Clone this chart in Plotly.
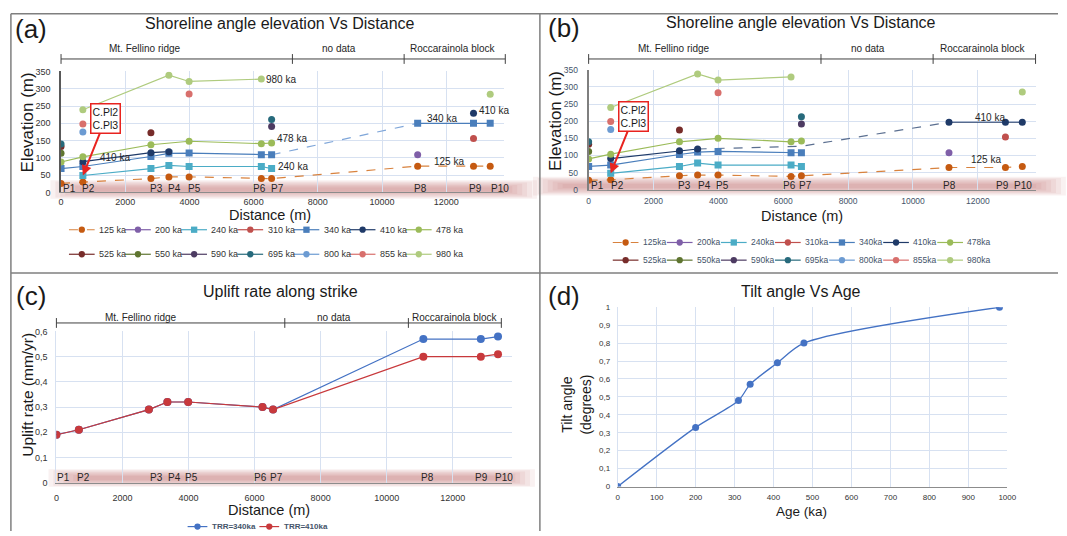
import plotly.graph_objects as go

# ---------------- DATA ----------------
PROFILE_LABELS = ["P1", "P2", "P3", "P4", "P5", "P6", "P7", "P8", "P9", "P10"]
PROFILE_X = [0, 680, 2800, 3360, 3990, 6240, 6560, 11110, 12850, 13370]

AGES = ["125", "200", "240", "310", "340", "410", "478",
        "525", "550", "590", "695", "800", "855", "980"]

N = None
# Panel (a) shoreline angle elevations (m) at P1..P10
A_125 = [26, 30, 40, 45, 45, 40, 40, 76, 76, 76]
A_200 = [N, N, N, N, N, N, N, 109, N, N]
A_240 = [N, 49, 69, 78, 75, 75, 69, N, N, N]
A_310 = [N, N, N, N, N, N, N, N, 156, N]
A_340 = [69, 75, 104, 113, 114, 109, 109, 200, 200, 200]
A_410 = [N, 89, 115, 118, N, N, N, N, 229, N]
A_478 = [88, 103, 138, N, 148, 141, 143, N, N, N]
A_525 = [133, N, 173, N, N, N, N, N, N, N]
A_550 = [113, N, N, N, N, N, N, N, N, N]
A_590 = [N, N, N, N, N, N, 191, N, N, N]
A_695 = [140, N, N, N, N, N, 211, N, N, N]
A_800 = [N, 175, N, N, N, N, N, N, N, N]
A_855 = [N, 198, N, N, 285, N, N, N, N, N]
A_980 = [N, 239, N, 339, 321, 328, N, N, N, 284]

# Panel (b)
B_125 = [28, 29, 41, 43, 43, 39, 41, 65, 65, 68]
B_200 = [N, N, N, N, N, N, N, 108, N, N]
B_240 = [N, 48, 68, 78, 72, 72, 68, N, N, N]
B_310 = [N, N, N, N, N, N, N, N, 154, N]
B_340 = [68, 72, 103, 110, 112, 108, 108, N, N, N]
B_410 = [N, 91, 114, 119, N, N, N, 197, 197, 197]
B_410_BEND = 127   # elevation of the dashed 410 ka trend where it bends (at P7)
B_478 = [90, 104, 140, N, 150, 140, 142, N, N, N]
B_525 = [133, N, 174, N, N, N, N, N, N, N]
B_550 = [112, N, N, N, N, N, N, N, N, N]
B_590 = [N, N, N, N, N, N, 192, N, N, N]
B_695 = [140, N, N, N, N, N, 213, N, N, N]
B_800 = [N, 176, N, N, N, N, N, N, N, N]
B_855 = [N, 199, N, N, 283, N, N, N, N, N]
B_980 = [N, 240, N, 338, 320, 329, N, N, N, 285]

# Panel (c) uplift rate (mm/yr)
C_340 = [0.19, 0.21, 0.29, 0.32, 0.32, 0.30, 0.29, 0.57, 0.57, 0.58]
C_410 = [0.19, 0.21, 0.29, 0.32, 0.32, 0.30, 0.29, 0.50, 0.50, 0.51]

# Panel (d) tilt angle vs age
D_AGE = [0, 200, 310, 340, 410, 478, 980]
D_TILT = [0, 0.33, 0.48, 0.57, 0.69, 0.80, 1.0]

DIST_TICKS = [0, 2000, 4000, 6000, 8000, 10000, 12000]
DIST_TICKTEXT = ["0", "2000", "4000", "6000", "8000", "10000", "12000"]
ELEV_TICKS = [0, 50, 100, 150, 200, 250, 300, 350]
UPLIFT_TICKS = [0, 0.1, 0.2, 0.3, 0.4, 0.5, 0.6]
UPLIFT_TICKTEXT = ["0", "0,1", "0,2", "0,3", "0,4", "0,5", "0,6"]
AGE_TICKS = [0, 100, 200, 300, 400, 500, 600, 700, 800, 900, 1000]
TILT_TICKS = [0, 0.1, 0.2, 0.3, 0.4, 0.5, 0.6, 0.7, 0.8, 0.9, 1.0]
TILT_TICKTEXT = ["0", "0,1", "0,2", "0,3", "0,4", "0,5", "0,6", "0,7", "0,8", "0,9", "1"]

# ---------------- STYLE ----------------
W, H = 1067, 536
FONT = "Liberation Sans, Arial, sans-serif"
GRID = "#D7E1F1"
COL = {"125": "#C55A11", "200": "#7F5FA8", "240": "#4BACC6", "310": "#C0504D",
       "340": "#4A7EBB", "410": "#1F3A68", "478": "#9BBB59", "525": "#772C2A",
       "550": "#5F7530", "590": "#4D3B62", "695": "#276A7C", "800": "#6C9BD2",
       "855": "#D86F6C", "980": "#AFCB7E"}
LINECOL = dict(COL)
LINECOL["125"] = "#D8823E"
SQUARES = {"240", "340"}

# horizontal nudges (px) of the profile labels in each panel
PLAB_SHIFT_A = [0, -3, -3, -3, -3, -10, -3, -6, -7, -1]
PLAB_SHIFT_B = [0, -2, -3, -2, -4, -10, -4, -8, -11, -10]
PLAB_SHIFT_C = [-1, -4, -1, -1, -5, -11, -5, -4, -8, -5]


def fx(p):
    return p / W


def fy(p):
    return 1 - p / H


A = dict(zip(AGES, [A_125, A_200, A_240, A_310, A_340, A_410, A_478,
                    A_525, A_550, A_590, A_695, A_800, A_855, A_980]))
B = dict(zip(AGES, [B_125, B_200, B_240, B_310, B_340, B_410, B_478,
                    B_525, B_550, B_590, B_695, B_800, B_855, B_980]))

fig = go.Figure()
shapes = []
annots = []


def line_trace(xa, ya, xs, ys, color, dash="solid", width=1.2):
    fig.add_trace(go.Scatter(x=xs, y=ys, mode="lines", xaxis=xa, yaxis=ya,
                             line=dict(color=color, width=width, dash=dash),
                             showlegend=False, hoverinfo="skip"))


def link(xa, ya, vals, idx, color, dash="solid"):
    line_trace(xa, ya, [PROFILE_X[i] for i in idx], [vals[i] for i in idx], color, dash)


def markers(xa, ya, vals, age, size=7):
    xs = [PROFILE_X[i] for i, v in enumerate(vals) if v is not None]
    ys = [v for v in vals if v is not None]
    fig.add_trace(go.Scatter(x=xs, y=ys, mode="markers", xaxis=xa, yaxis=ya,
                             name=age + " ka",
                             marker=dict(color=COL[age], size=size,
                                         symbol="square" if age in SQUARES else "circle"),
                             showlegend=False))


ALL = list(range(10))
# ---- panel (a)
link("x", "y", A["125"], ALL, LINECOL["125"], "dash")
link("x", "y", A["240"], [1, 2, 3, 4, 5, 6], LINECOL["240"])
link("x", "y", A["340"], [0, 1, 2, 3, 4, 5, 6], LINECOL["340"])
link("x", "y", A["340"], [6, 7], "#7FA6D9", "dash")
link("x", "y", A["340"], [7, 8, 9], LINECOL["340"])
link("x", "y", A["410"], [1, 2, 3], LINECOL["410"])
link("x", "y", A["478"], [0, 1, 2, 4, 5, 6], LINECOL["478"])
link("x", "y", A["980"], [1, 3, 4, 5], LINECOL["980"])
for age in AGES:
    markers("x", "y", A[age], age)

# ---- panel (b)
link("x2", "y2", B["125"], ALL, LINECOL["125"], "dash")
link("x2", "y2", B["240"], [1, 2, 3, 4, 5, 6], LINECOL["240"])
link("x2", "y2", B["340"], [0, 1, 2, 3, 4, 5, 6], LINECOL["340"])
link("x2", "y2", B["410"], [1, 2, 3], LINECOL["410"])
line_trace("x2", "y2", [PROFILE_X[3], PROFILE_X[6], PROFILE_X[7]],
           [B["410"][3], B_410_BEND, B["410"][7]], "#5B6F90", "dash")
link("x2", "y2", B["410"], [7, 8, 9], LINECOL["410"])
link("x2", "y2", B["478"], [0, 1, 2, 4, 5, 6], LINECOL["478"])
link("x2", "y2", B["980"], [1, 3, 4, 5], LINECOL["980"])
for age in AGES:
    markers("x2", "y2", B[age], age)

# ---- panel (c)
fig.add_trace(go.Scatter(x=PROFILE_X, y=C_340, mode="lines+markers", xaxis="x3", yaxis="y3",
                         name="TRR=340ka", line=dict(color="#4472C4", width=1.2),
                         marker=dict(color="#4472C4", size=8), showlegend=False))
fig.add_trace(go.Scatter(x=PROFILE_X, y=C_410, mode="lines+markers", xaxis="x3", yaxis="y3",
                         name="TRR=410ka", line=dict(color="#C8393C", width=1.2),
                         marker=dict(color="#C8393C", size=8), showlegend=False))

# ---- panel (d)
fig.add_trace(go.Scatter(x=D_AGE, y=D_TILT, mode="lines+markers", xaxis="x4", yaxis="y4",
                         line=dict(color="#4472C4", width=1.3, shape="spline", smoothing=0.8),
                         marker=dict(color="#4472C4", size=7), showlegend=False))


# ---------------- AXES ----------------
def xaxis(dom, rng, ticks, tcolor, size, standoff, text=None, line=True):
    d = dict(domain=[fx(dom[0]), fx(dom[1])], range=rng, tickvals=ticks,
             showgrid=True, gridcolor=GRID, gridwidth=1, zeroline=False,
             showline=line, linecolor="#8C8C8C", linewidth=1.2, ticks="",
             tickfont=dict(family=FONT, size=size, color=tcolor),
             ticklabelstandoff=standoff, fixedrange=True)
    if text:
        d["ticktext"] = text
    return d


def yaxis(dom, rng, ticks, tcolor, size, standoff, text=None, lw=1.5, lc="#595959"):
    d = dict(domain=[fy(dom[1]), fy(dom[0])], range=rng, tickvals=ticks,
             showgrid=True, gridcolor=GRID, gridwidth=1, zeroline=False,
             showline=True, linecolor=lc, linewidth=lw, ticks="",
             tickfont=dict(family=FONT, size=size, color=tcolor),
             ticklabelstandoff=standoff, fixedrange=True)
    if text:
        d["ticktext"] = text
    return d


RX = [0, 13800]
fig.update_layout(
    xaxis=xaxis((58.7, 506.7), RX, DIST_TICKS, "#333333", 9, 1, DIST_TICKTEXT),
    yaxis=dict(yaxis((67.7, 191), [0, 350], ELEV_TICKS, "#333333", 9, 7), anchor="x"),
    xaxis2=dict(xaxis((592.3, 1045), RX, DIST_TICKS, "#44546A", 8.5, 3, DIST_TICKTEXT), anchor="y2"),
    yaxis2=dict(yaxis((66, 188.3), [0, 350], ELEV_TICKS, "#44546A", 8.5, 7, lw=2, lc="#7F7F7F"), anchor="x2"),
    xaxis3=dict(xaxis((54, 515), RX, DIST_TICKS, "#333333", 9, 6, DIST_TICKTEXT), anchor="y3"),
    yaxis3=dict(yaxis((332.7, 486.7), [0, 0.6], UPLIFT_TICKS, "#333333", 9, 6,
                      UPLIFT_TICKTEXT, lw=1, lc=GRID), anchor="x3"),
    xaxis4=dict(xaxis((621.7, 1015.7), [0, 1000], AGE_TICKS, "#333333", 8, 3), anchor="y4"),
    yaxis4=dict(yaxis((308, 490.7), [0, 1], TILT_TICKS, "#333333", 8, 5,
                      TILT_TICKTEXT, lw=1, lc=GRID), anchor="x4"),
)


# ---------------- DECORATIONS ----------------
def txt(x, y, s, size, color="#1A1A1A", xanchor="center", angle=0, **kw):
    annots.append(dict(x=fx(x), y=fy(y), xref="paper", yref="paper", text=s,
                       showarrow=False, xanchor=xanchor, yanchor="middle",
                       textangle=angle, font=dict(family=FONT, size=size, color=color), **kw))


def hline(x0, x1, y, color="#404040", width=1, dash="solid"):
    shapes.append(dict(type="line", xref="paper", yref="paper", x0=fx(x0), x1=fx(x1),
                       y0=fy(y), y1=fy(y), line=dict(color=color, width=width, dash=dash)))


def vline(x, y0, y1, color="#404040", width=1):
    shapes.append(dict(type="line", xref="paper", yref="paper", x0=fx(x), x1=fx(x),
                       y0=fy(y0), y1=fy(y1), line=dict(color=color, width=width)))


def band(x0, x1, yc, hh):
    for k in range(7):
        h = hh * (1 - k * 0.13)
        ins = k * 5
        shapes.append(dict(type="rect", xref="paper", yref="paper", layer="below",
                           x0=fx(x0 + ins), x1=fx(x1 - ins), y0=fy(yc + h), y1=fy(yc - h),
                           line=dict(width=0), fillcolor="rgba(185,95,105,0.09)"))


band(48, 540, 188, 9.5)
band(536, 1075, 184.5, 9.5)
band(46, 538, 482, 9)

# panel frames
hline(8, W, 9, "#7F7F7F", 1.5)
hline(8, W, 273, "#7F7F7F", 1.5)
vline(8, 9, H, "#7F7F7F", 1.5)
vline(543, 9, H, "#7F7F7F", 1.5)


def bracket(x_ticks, y, label_y, label_x, size=10):
    hline(x_ticks[0], x_ticks[-1], y, "#404040", 1)
    for xt in x_ticks:
        vline(xt, y - 5, y + 5, "#404040", 1)
    for lx, s in zip(label_x, ["Mt. Fellino ridge", "no data", "Roccarainola block"]):
        txt(lx, label_y, s, size, "#262626")


bracket([58.7, 292.7, 405.7, 508], 55, 44.5, [144, 340, 455])
bracket([592.3, 827.3, 940.7, 1044.3], 55, 44.5, [678.3, 875, 991])
bracket([54, 285, 410, 504], 324, 318, [140, 335, 456.7])

# titles and panel letters
txt(280, 19, "Shoreline angle elevation Vs Distance", 16)
txt(806.7, 18.3, "Shoreline angle elevation Vs Distance", 16)
txt(281, 291.7, "Uplift rate along strike", 16)
txt(807, 292, "Tilt angle Vs Age", 16)
txt(28, 24, "(a)", 26)
txt(567, 23, "(b)", 26)
txt(28, 297, "(c)", 26)
txt(567, 297, "(d)", 26)

# axis titles
txt(269.7, 214, "Distance (m)", 14.5)
txt(807.7, 215.5, "Distance (m)", 14.5)
txt(269.3, 514.5, "Distance (m)", 14.5)
txt(807.7, 516.5, "Age (ka)", 13.5)
txt(25, 120, "Elevation (m)", 17, angle=-90)
txt(558.3, 118.3, "Elevation (m)", 17, angle=-90)
txt(24, 397.5, "Uplift rate (mm/yr)", 15.5, angle=-90)
txt(580, 406.7, "Tilt angle<br>(degrees)", 14, angle=-90)

# profile labels
for xa, ya, ysh, shifts in (("x", "y", 3.5, PLAB_SHIFT_A), ("x2", "y2", 4, PLAB_SHIFT_B),
                            ("x3", "y3", 5, PLAB_SHIFT_C)):
    for lab, xv, sh in zip(PROFILE_LABELS, PROFILE_X, shifts):
        annots.append(dict(x=xv, y=0, xref=xa, yref=ya, text=lab, showarrow=False,
                           xanchor="left", yanchor="middle", xshift=sh, yshift=ysh,
                           font=dict(family=FONT, size=10, color="#262626")))


def series_label(xa, ya, idx, vals, s, xsh, ysh):
    annots.append(dict(x=PROFILE_X[idx], y=vals[idx], xref=xa, yref=ya, text=s,
                       showarrow=False, xanchor="left", yanchor="middle",
                       xshift=xsh, yshift=ysh, font=dict(family=FONT, size=10, color="#262626")))


series_label("x", "y", 5, A["980"], "980 ka", 3, 0)
series_label("x", "y", 6, A["478"], "478 ka", 3, 4)
series_label("x", "y", 6, A["240"], "240 ka", 4, 2)
series_label("x", "y", 1, A["410"], "410 ka", 15, 4)
series_label("x", "y", 7, A["340"], "340 ka", 7, 5)
series_label("x", "y", 8, A["410"], "410 ka", 3, 3)
series_label("x", "y", 7, A["125"], "125 ka", 14, 5)
series_label("x2", "y2", 7, B["410"], "410 ka", 24, 5)
series_label("x2", "y2", 7, B["125"], "125 ka", 20, 8)

# C.Pl2 / C.Pl3 callouts
for xa, ya, vals in (("x", "y", A["240"]), ("x2", "y2", B["240"])):
    annots.append(dict(x=PROFILE_X[1], y=vals[1], xref=xa, yref=ya,
                       text="C.Pl2<br>C.Pl3", showarrow=True, ax=23, ay=-57,
                       arrowhead=2, arrowsize=1, arrowwidth=2, arrowcolor="#E8231F",
                       bordercolor="#E8231F", borderwidth=1.5, borderpad=1, bgcolor="white",
                       font=dict(family=FONT, size=10.5, color="#1A1A1A")))


# ---------------- CUSTOM LEGENDS ----------------
def legend_item(x, y, color, lcolor, dash, square, name, tcolor, llen=26, size=9, bold=False, r=3.2):
    hline(x, x + llen, y, lcolor, 1.2, dash)
    cx = x + llen / 2
    shapes.append(dict(type="rect" if square else "circle", xref="paper", yref="paper",
                       x0=fx(cx - r), x1=fx(cx + r), y0=fy(y + r), y1=fy(y - r),
                       line=dict(width=0), fillcolor=color))
    annots.append(dict(x=fx(x + llen + 2.5), y=fy(y), xref="paper", yref="paper",
                       text=("<b>%s</b>" % name) if bold else name, showarrow=False,
                       xanchor="left", yanchor="middle",
                       font=dict(family=FONT, size=size, color=tcolor)))


for row, ages in enumerate((AGES[:7], AGES[7:])):
    for i, age in enumerate(ages):
        dash = "dash" if age == "125" else "solid"
        legend_item(66.7 + i * 56.8, 229 + row * 25, COL[age], LINECOL[age], dash,
                    age in SQUARES, age + " ka", "#333333")
        legend_item(616.7 + i * 54.7, 242 + row * 18, COL[age], LINECOL[age], dash,
                    age in SQUARES, age + "ka", "#44546A", size=8.5)

legend_item(186.7, 531.5, "#4472C4", "#4472C4", "solid", False, "TRR=340ka", "#44546A",
            llen=20, size=8, bold=True)
legend_item(259.3, 531.5, "#C8393C", "#C8393C", "solid", False, "TRR=410ka", "#44546A",
            llen=20, size=8, bold=True)

fig.update_layout(width=W, height=H, margin=dict(l=0, r=0, t=0, b=0),
                  paper_bgcolor="white", plot_bgcolor="rgba(0,0,0,0)",
                  showlegend=False, shapes=shapes, annotations=annots,
                  font=dict(family=FONT))

fig.write_html("out.html")
